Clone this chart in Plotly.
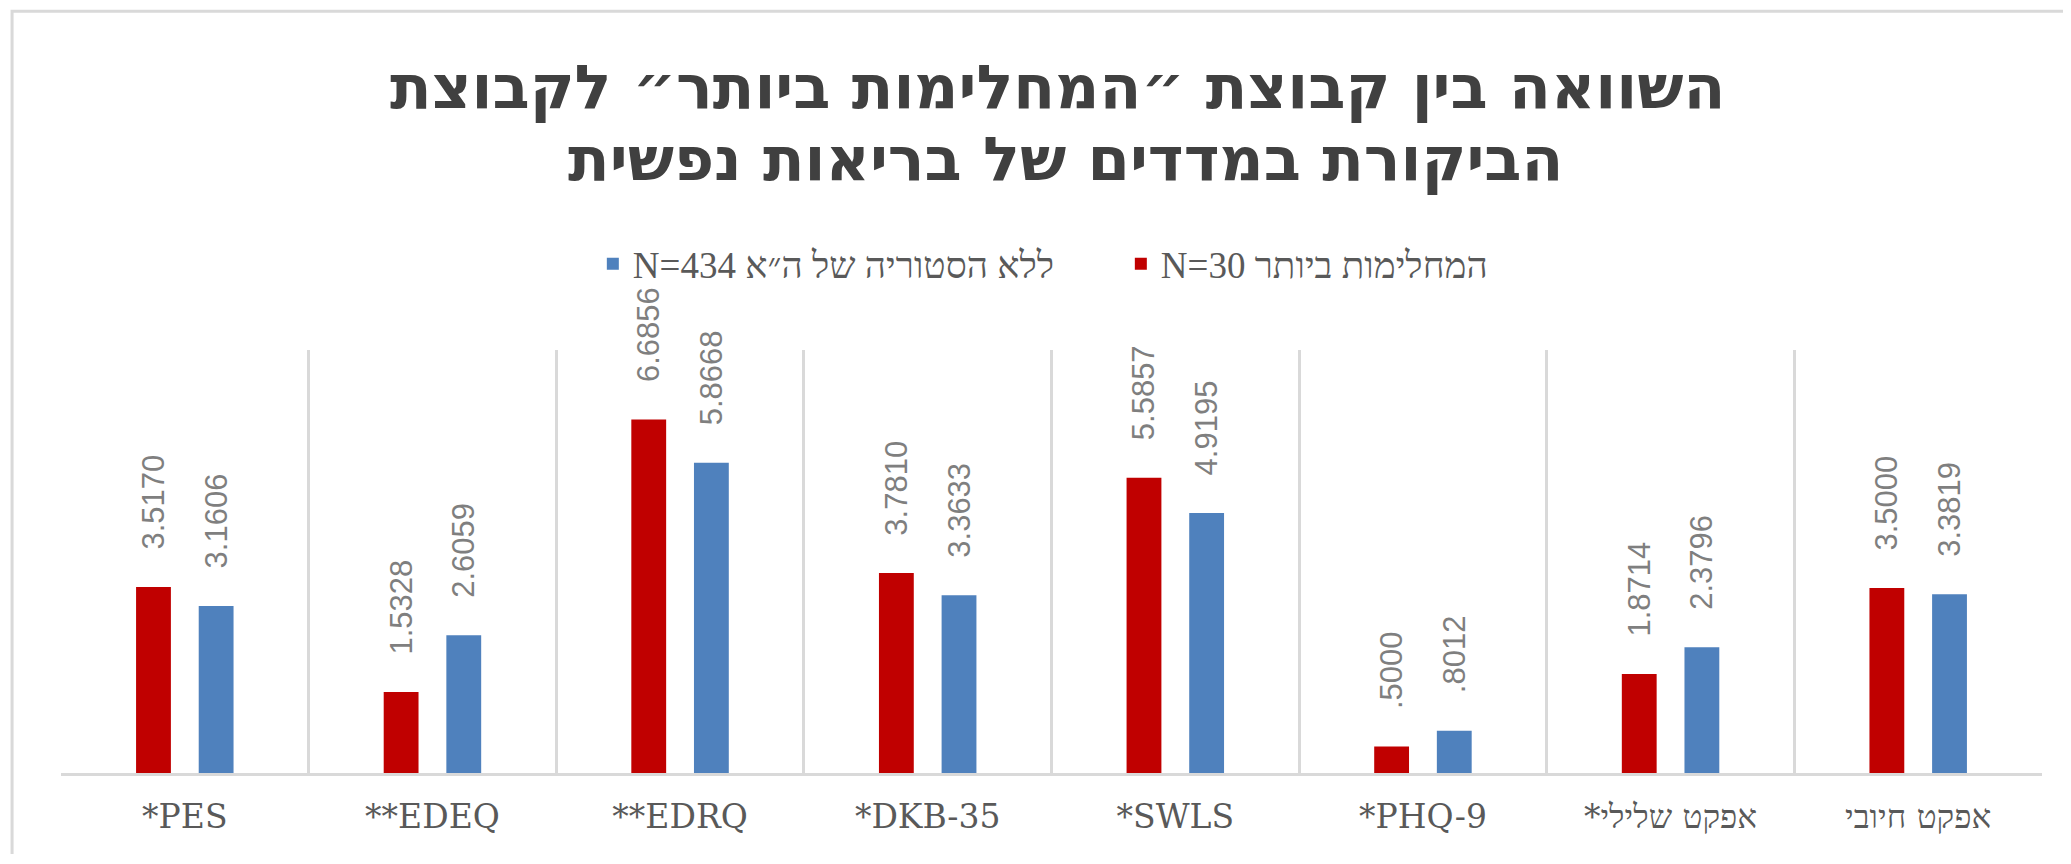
import plotly.graph_objects as go

categories = ["*PES", "**EDEQ", "**EDRQ", "*DKB-35", "*SWLS", "*PHQ-9", "*אפקט שלילי", "אפקט חיובי"]
recovered_name = "N=30 המחלימות ביותר"
control_name = "N=434 ללא הסטוריה של ה״א"
recovered = [3.5170, 1.5328, 6.6856, 3.7810, 5.5857, 0.5000, 1.8714, 3.5000]
control = [3.1606, 2.6059, 5.8668, 3.3633, 4.9195, 0.8012, 2.3796, 3.3819]
title_lines = ["השוואה בין קבוצת ״המחלימות ביותר״ לקבוצת", "הביקורת במדדים של בריאות נפשית"]

RED = "#C00000"
BLUE = "#4F81BD"
GRID = "#D9D9D9"
LABEL = "#7F7F7F"


def fmt(v):
    s = f"{v:.4f}"
    if s.startswith("0"):
        s = s[1:]
    return "\u00a0\u00a0\u00a0\u00a0" + s


fig = go.Figure()
for name, vals, col in [(recovered_name, recovered, RED), (control_name, control, BLUE)]:
    fig.add_trace(go.Bar(
        x=categories, y=vals, name=name, marker=dict(color=col, line=dict(width=0)),
        text=[fmt(v) for v in vals], textposition="outside", textangle=-90,
        constraintext="none", cliponaxis=False,
        textfont=dict(family="Liberation Sans", size=31, color=LABEL),
    ))

W, H = 2055, 846
title_font = dict(family="DejaVu Sans", size=61, color="#404040")
fig.update_layout(
    width=W, height=H,
    margin=dict(l=53, r=21, t=342, b=81),
    paper_bgcolor="white", plot_bgcolor="white",
    barmode="group", bargap=0.494, bargroupgap=0.444,
    legend=dict(orientation="h", x=0.535, xanchor="center", y=1.203, yanchor="middle",
                traceorder="reversed", entrywidth=483, entrywidthmode="pixels",
                font=dict(family="Liberation Serif", size=37, color="#595959"),
                bgcolor="rgba(0,0,0,0)"),
    showlegend=True,
    xaxis=dict(showgrid=True, tickson="boundaries", gridcolor=GRID, gridwidth=2.5,
               showline=True, linecolor=GRID, linewidth=3, ticks="",
               ticklabelstandoff=12,
               tickfont=dict(family="DejaVu Serif", size=33, color="#595959")),
    yaxis=dict(range=[0, 8], showgrid=False, zeroline=False, showticklabels=False,
               showline=False, ticks=""),
    annotations=[
        dict(text="<b>" + title_lines[0] + "</b>", xref="paper", yref="paper",
             x=0.503, y=1.6217, xanchor="center", yanchor="middle", showarrow=False,
             font=title_font),
        dict(text="<b>" + title_lines[1] + "</b>", xref="paper", yref="paper",
             x=0.507, y=1.4515, xanchor="center", yanchor="middle", showarrow=False,
             font=title_font),
    ],
    shapes=[dict(type="rect", xref="paper", yref="paper",
                 x0=-0.0247, x1=1.2, y0=-0.4, y1=1.801,
                 line=dict(color=GRID, width=3), fillcolor="rgba(0,0,0,0)", layer="below")],
)

fig.write_html("out.html")
